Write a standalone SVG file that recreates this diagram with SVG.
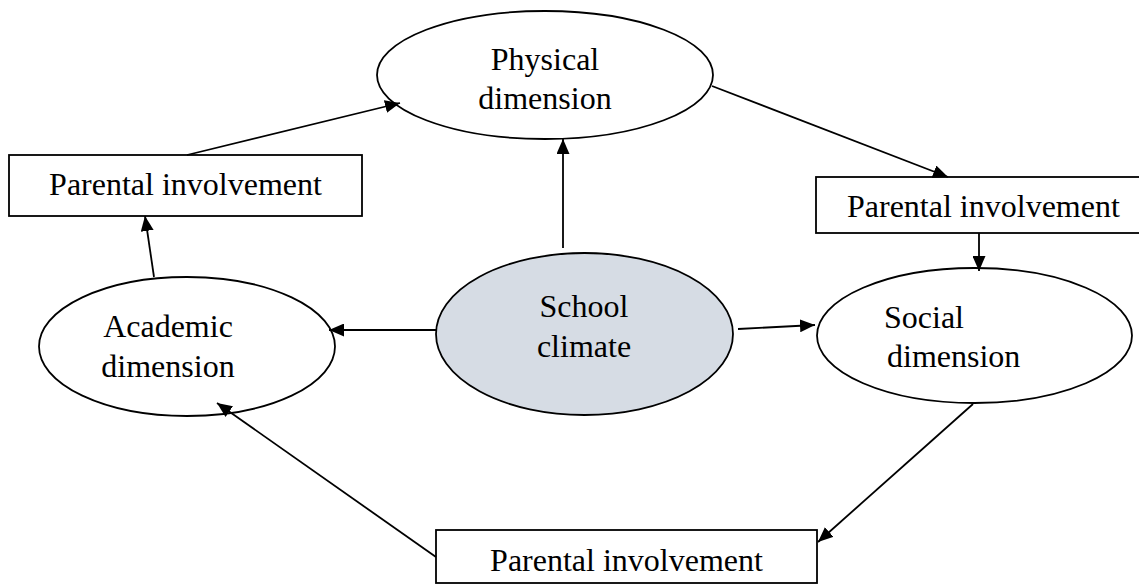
<svg xmlns="http://www.w3.org/2000/svg" width="1139" height="584" viewBox="0 0 1139 584">
<defs>
<style>
.shape{fill:#fff;stroke:#000;stroke-width:1.8}
.sc{fill:#D6DCE4;stroke:#000;stroke-width:1.8}
.lbl{font-family:"Liberation Serif","Times New Roman",serif;font-size:32px;fill:#000}
.mid{text-anchor:middle}
.conn line{stroke:#000;stroke-width:1.8;fill:none;marker-end:url(#ah)}
</style>
<marker id="ah" viewBox="0 0 15 13" refX="15" refY="6.5" markerWidth="15" markerHeight="13" markerUnits="userSpaceOnUse" orient="auto">
<path d="M0,0 L15,6.5 L0,13 z" fill="#000"/>
</marker>
</defs>
<rect width="1139" height="584" fill="#fff"/>
<g id="physical">
<ellipse class="shape" cx="545" cy="75" rx="168" ry="64"/>
<text class="lbl mid" x="545" y="70">Physical</text>
<text class="lbl mid" x="545" y="109">dimension</text>
</g>
<g id="pi-left">
<rect class="shape" x="9" y="155" width="353" height="61"/>
<text class="lbl mid" x="185.5" y="195">Parental involvement</text>
</g>
<g id="pi-right">
<rect class="shape" x="816" y="177" width="340" height="56"/>
<text class="lbl" x="847" y="217">Parental involvement</text>
</g>
<g id="academic">
<ellipse class="shape" cx="187" cy="346.5" rx="148" ry="69.5"/>
<text class="lbl mid" x="168" y="337">Academic</text>
<text class="lbl mid" x="168" y="377">dimension</text>
</g>
<g id="school">
<ellipse class="sc" cx="584.5" cy="334" rx="148.5" ry="81"/>
<text class="lbl mid" x="584" y="317">School</text>
<text class="lbl mid" x="584" y="357">climate</text>
</g>
<g id="social">
<ellipse class="shape" cx="974.5" cy="335.5" rx="157.5" ry="67.5"/>
<text class="lbl" x="884" y="328">Social</text>
<text class="lbl" x="887" y="367">dimension</text>
</g>
<g id="pi-bottom">
<rect class="shape" x="436" y="530" width="381" height="53"/>
<text class="lbl mid" x="626.5" y="571">Parental involvement</text>
</g>
<g class="conn">
<line x1="187" y1="155" x2="400" y2="103"/>
<line x1="712" y1="86" x2="948" y2="177"/>
<line x1="563" y1="248" x2="563" y2="139"/>
<line x1="154" y1="277" x2="145" y2="216"/>
<line x1="436" y1="330" x2="329" y2="330"/>
<line x1="738" y1="329" x2="815" y2="325"/>
<line x1="979" y1="233" x2="979" y2="271"/>
<line x1="973" y1="404" x2="818" y2="542"/>
<line x1="436" y1="557" x2="217" y2="403"/>
</g>
</svg>
